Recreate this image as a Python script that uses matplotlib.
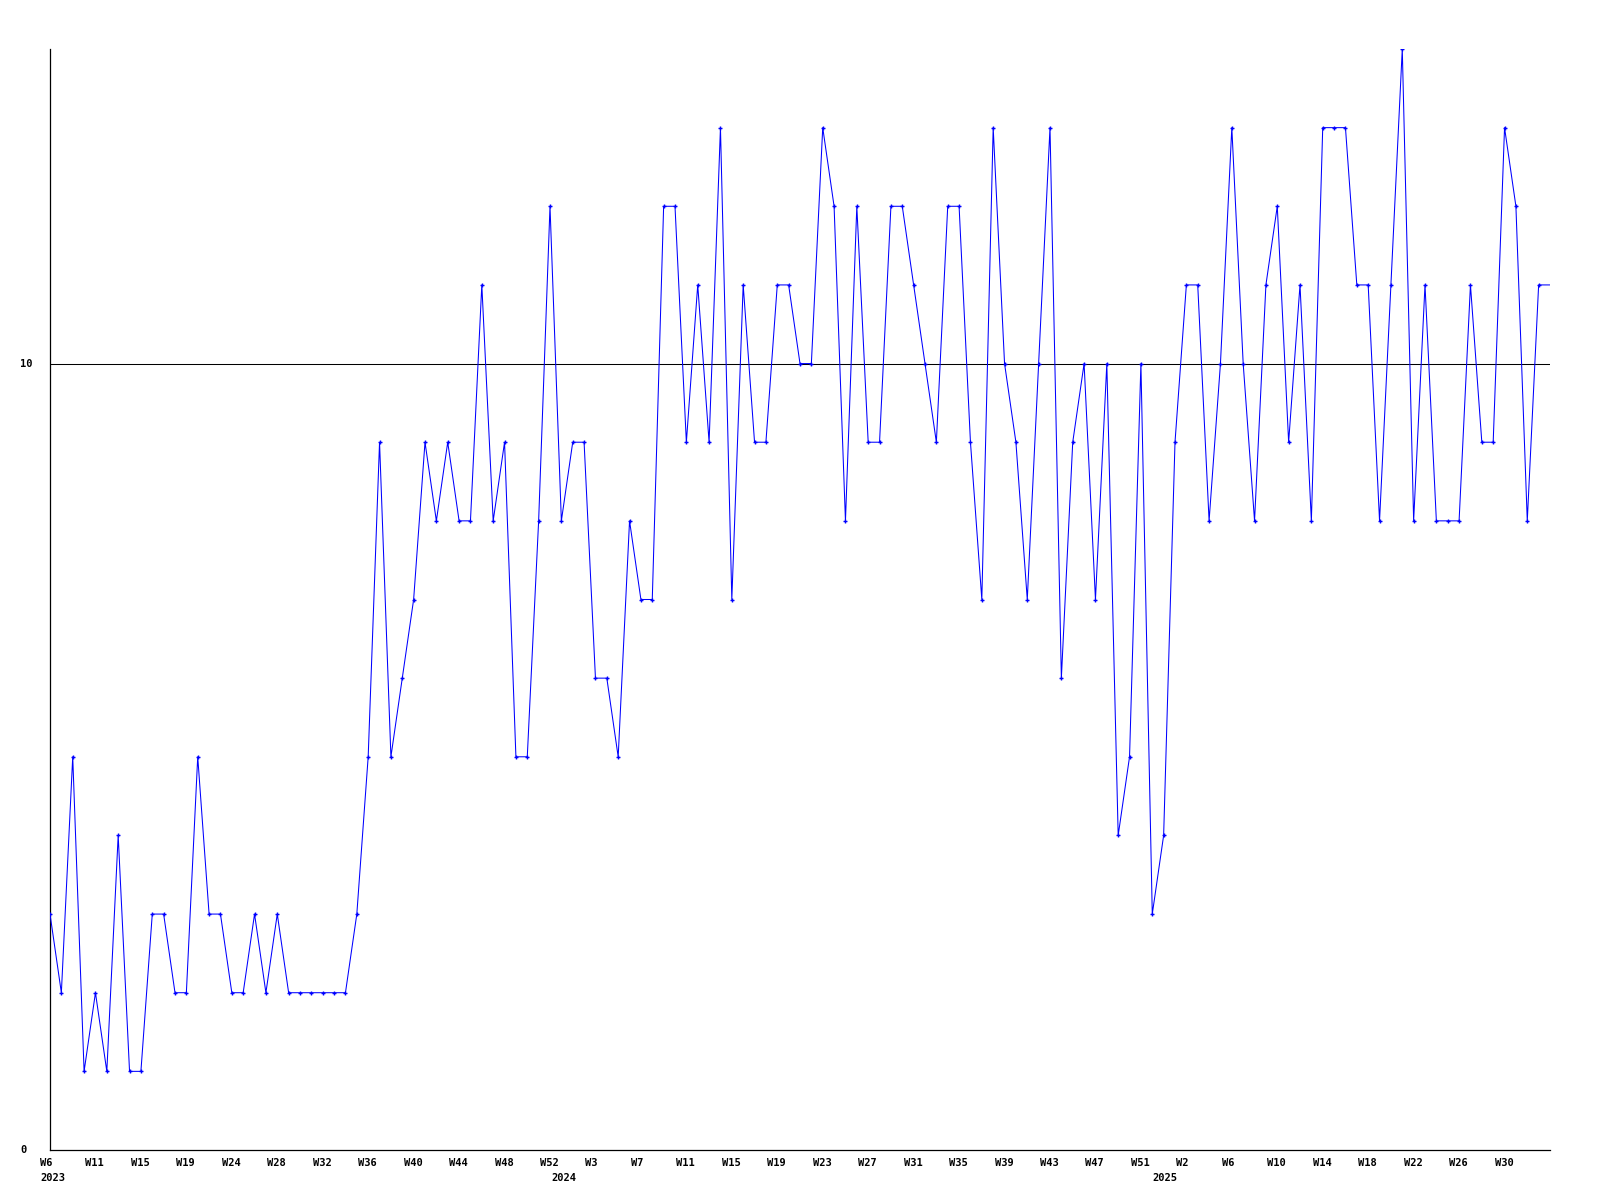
import matplotlib
matplotlib.use("Agg")
import matplotlib.pyplot as plt
import numpy as np

# weekly values, 2023 W6 .. 2025 W34
values = [3, 2, 5, 1, 2, 1, 4, 1, 1, 3,
          3, 2, 2, 5, 3, 3, 2, 2, 3, 2,
          3, 2, 2, 2, 2, 2, 2, 3, 5, 9,
          5, 6, 7, 9, 8, 9, 8, 8, 11, 8,
          9, 5, 5, 8, 12, 8, 9, 9, 6, 6,
          5, 8, 7, 7, 12, 12, 9, 11, 9, 13,
          7, 11, 9, 9, 11, 11, 10, 10, 13, 12,
          8, 12, 9, 9, 12, 12, 11, 10, 9, 12,
          12, 9, 7, 13, 10, 9, 7, 10, 13, 6,
          9, 10, 7, 10, 4, 5, 10, 3, 4, 9,
          11, 11, 8, 10, 13, 10, 8, 11, 12, 9,
          11, 8, 13, 13, 13, 11, 11, 8, 11, 14,
          8, 11, 8, 8, 8, 11, 9, 9, 13, 12,
          8, 11, 11]

week_labels = ["W6", "W11", "W15", "W19", "W24", "W28", "W32", "W36", "W40",
               "W44", "W48", "W52", "W3", "W7", "W11", "W15", "W19", "W23",
               "W27", "W31", "W35", "W39", "W43", "W47", "W51", "W2", "W6",
               "W10", "W14", "W18", "W22", "W26", "W30"]
year_labels = ["2023", "2024", "2025"]
year_label_pos = [-0.88, 44.1, 97.05]
ref_value = 10
y_labels = [0, 10]

fig = plt.figure(figsize=(16, 12), dpi=100)
ax = fig.add_axes([50 / 1600, 50 / 1200, 1500 / 1600, 1101 / 1200])

x = np.arange(len(values))
ax.plot(x, values, color="#0000ff", linewidth=0.75, antialiased=True,
        marker="+", markersize=3.5, markeredgewidth=1.0,
        markevery=list(range(len(values) - 1)), zorder=3)
ax.axhline(ref_value, color="black", linewidth=0.75, zorder=2)

ax.set_xlim(0, len(values) - 1)
ax.set_ylim(0, 14)
for s in ["top", "right"]:
    ax.spines[s].set_visible(False)
for s in ["left", "bottom"]:
    ax.spines[s].set_linewidth(0.9)
    ax.spines[s].set_color("black")
ax.set_xticks([])
ax.set_yticks([])

font = dict(family="DejaVu Sans Mono", fontweight="bold", fontsize=7.5, color="black")
xt = ax.get_xaxis_transform()
for k, lab in enumerate(week_labels):
    ax.text(-0.88 + 4 * k, -0.0145, lab, transform=xt, ha="left",
            va="baseline", **font)
for lab, pos in zip(year_labels, year_label_pos):
    ax.text(pos, -0.0282, lab, transform=xt, ha="left", va="baseline", **font)
yt = ax.get_yaxis_transform()
for v in y_labels:
    ax.text(-0.02, v, str(v), transform=yt, ha="left", va="center", **font)

fig.savefig("out.png", dpi=100, facecolor="white")
